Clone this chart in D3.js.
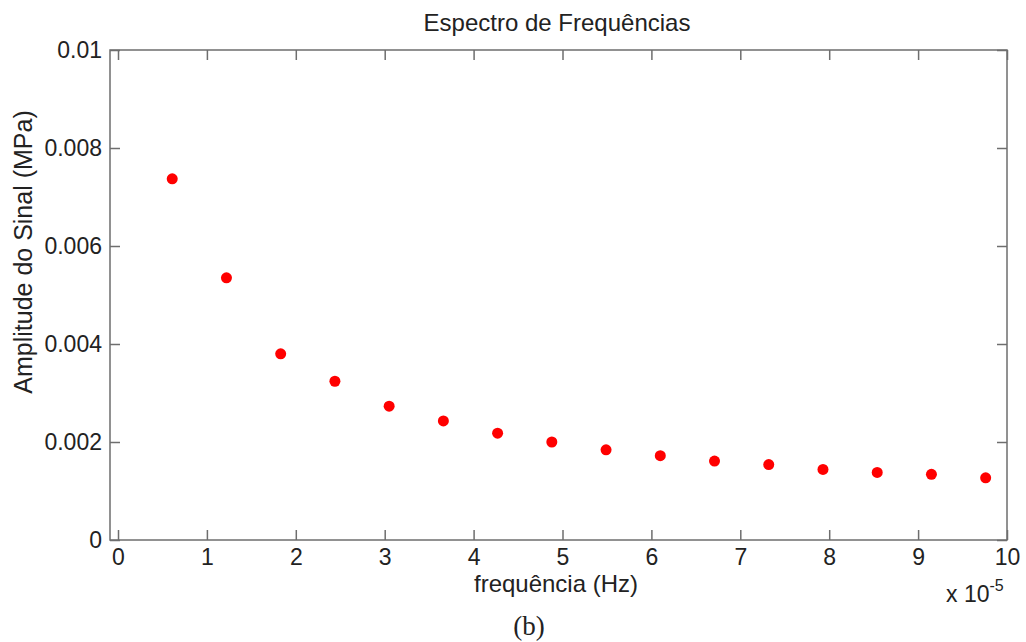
<!DOCTYPE html>
<html>
<head>
<meta charset="utf-8">
<script src="https://cdn.jsdelivr.net/npm/d3@7"></script>
<style>
  body { margin: 0; background: #fff; }
  svg text { font-family: "Liberation Sans", Arial, sans-serif; fill: #222; }
</style>
</head>
<body>
<svg id="chart" width="1026" height="642"></svg>
<script>
// Frequency spectrum: frequency in units of 1e-5 Hz, amplitude in MPa
const freq = [0.61, 1.22, 1.83, 2.44, 3.05, 3.66, 4.27, 4.88, 5.49, 6.10, 6.71, 7.32, 7.93, 8.54, 9.15, 9.76];
const amplitude = [0.00737, 0.00535, 0.00380, 0.00324, 0.00273, 0.00243, 0.00218, 0.00200,
                   0.00184, 0.00172, 0.00161, 0.00154, 0.00144, 0.00138, 0.00134, 0.00127];
const xTicks = [0, 1, 2, 3, 4, 5, 6, 7, 8, 9, 10];
const yTicks = [0, 0.002, 0.004, 0.006, 0.008, 0.01];
const yTickLabels = ["0", "0.002", "0.004", "0.006", "0.008", "0.01"];

(function () {
const svg = d3.select("#chart");
const mLeft = 110, mRight = 1007, mTop = 50, mBottom = 540;
const axisColor = "#6e6e6e";

const x = d3.scaleLinear().domain([-0.09, 10]).range([mLeft, mRight]);
const y = d3.scaleLinear().domain([0, 0.01]).range([mBottom, mTop]);

// Frame box
svg.append("rect")
  .attr("x", mLeft).attr("y", mTop)
  .attr("width", mRight - mLeft).attr("height", mBottom - mTop)
  .attr("fill", "none").attr("stroke", axisColor).attr("stroke-width", 1.5);

// Axes with inward ticks, mirrored on top and right
const tickLen = 10;
const xAxisB = d3.axisBottom(x).tickValues(xTicks).tickSize(-tickLen).tickPadding(9).tickFormat(d3.format("d"));
const xAxisT = d3.axisTop(x).tickValues(xTicks).tickSize(-tickLen).tickFormat("");
const yAxisL = d3.axisLeft(y).tickValues(yTicks).tickSize(-tickLen).tickPadding(8)
  .tickFormat((d, i) => yTickLabels[i]);
const yAxisR = d3.axisRight(y).tickValues(yTicks).tickSize(-tickLen).tickFormat("");

function styleAxis(g) {
  g.select(".domain").remove();
  g.selectAll(".tick line").attr("stroke", axisColor).attr("stroke-width", 1.5);
  g.selectAll(".tick text").attr("font-size", 23).style("font-family", "Liberation Sans, Arial, sans-serif").attr("fill", "#222");
}

svg.append("g").attr("transform", `translate(0,${mBottom})`).call(xAxisB).call(styleAxis);
svg.append("g").attr("transform", `translate(0,${mTop})`).call(xAxisT).call(styleAxis);
svg.append("g").attr("transform", `translate(${mLeft},0)`).call(yAxisL).call(styleAxis);
svg.append("g").attr("transform", `translate(${mRight},0)`).call(yAxisR).call(styleAxis);

// Data points
svg.append("g").selectAll("circle")
  .data(freq.map((f, i) => [f, amplitude[i]]))
  .join("circle")
  .attr("cx", d => x(d[0]))
  .attr("cy", d => y(d[1]))
  .attr("r", 5.5)
  .attr("fill", "#f00");

// Titles and labels
svg.append("text").attr("x", 557).attr("y", 31).attr("text-anchor", "middle")
  .attr("font-size", 24).text("Espectro de Frequências");

svg.append("text").attr("x", 556).attr("y", 592).attr("text-anchor", "middle")
  .attr("font-size", 24).text("frequência (Hz)");

svg.append("text")
  .attr("transform", `translate(32,252) rotate(-90)`)
  .attr("text-anchor", "middle").attr("font-size", 25).text("Amplitude do Sinal (MPa)");

const expo = svg.append("text").attr("x", 946).attr("y", 602).attr("font-size", 23);
expo.append("tspan").text("x 10");
expo.append("tspan").attr("dy", -11).attr("font-size", 16).text("-5");

svg.append("text").attr("x", 529).attr("y", 635).attr("text-anchor", "middle")
  .style("font-family", "Liberation Serif, Times New Roman, serif")
  .attr("font-size", 27).text("(b)");
})();
</script>
</body>
</html>
